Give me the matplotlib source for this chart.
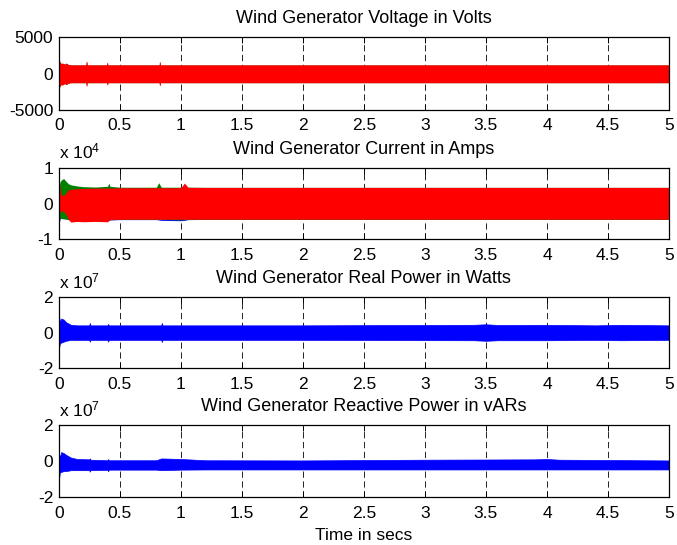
import numpy as np
import matplotlib
matplotlib.use('Agg')
import matplotlib.pyplot as plt
from matplotlib.ticker import FuncFormatter

plt.rcParams['font.family'] = ['Liberation Sans', 'DejaVu Sans']
plt.rcParams['mathtext.fontset'] = 'custom'
plt.rcParams['mathtext.rm'] = 'Liberation Sans'
plt.rcParams['mathtext.it'] = 'Liberation Sans'
plt.rcParams['lines.scale_dashes'] = False

# envelope of the dense waveforms (time in s, upper / lower)
# voltage, V
t_volt = [0, 0.004, 0.01, 0.02, 0.03, 0.05, 0.06, 0.08, 0.1, 0.225, 0.228, 0.231, 0.395, 0.398, 0.401,
          0.825, 0.828, 0.831, 1.0, 5.0]
volt_hi = [1900, 1800, 1500, 1350, 1400, 1250, 1400, 1200, 1150, 1150, 1650, 1150, 1150, 1500, 1150,
           1150, 1600, 1150, 1150, 1150]
volt_lo = [-2000, -1900, -1600, -1450, -1500, -1300, -1450, -1250, -1200, -1200, -1650, -1200, -1200, -1500,
           -1200, -1200, -1600, -1200, -1200, -1200]

# current, A (three phases)
t_curr = [0, 0.004, 0.01, 0.02, 0.04, 0.06, 0.08, 0.1, 0.15, 0.2, 0.3, 0.4, 0.41, 0.42, 0.5, 0.8,
          0.82, 0.84, 1.0, 1.03, 1.06, 1.2, 5.0]
curr_b_hi = [1500, 2000, 2500, 3000, 3500, 3800, 4000, 4100, 4200, 4300, 4400, 4400, 4500, 4400, 4450,
             4450, 4450, 4450, 4450, 4450, 4450, 4450, 4450]
curr_b_lo = [-6000, -5500, -4500, -3500, -3800, -4200, -4500, -4600, -4700, -4600, -4600, -4600, -4600,
             -4600, -4500, -4500, -4600, -4700, -4800, -4700, -4500, -4450, -4450]
curr_g_hi = [2000, 4000, 6000, 6500, 7000, 6200, 5500, 5200, 4900, 4700, 4600, 4800, 5700, 4800, 4550,
             4550, 5800, 4550, 4550, 4550, 4550, 4500, 4500]
curr_g_lo = [-3500, -3800, -4000, -4200, -4300, -4400, -4400, -4500, -4500, -4500, -4500, -4500, -4500,
             -4500, -4450, -4450, -4450, -4450, -4600, -4500, -4450, -4450, -4450]
curr_r_hi = [7000, 7000, 4500, 2500, 2200, 3000, 3800, 4000, 4100, 4200, 4300, 4300, 4400, 4300, 4400,
             4400, 4500, 4400, 4400, 5700, 4500, 4500, 4500]
curr_r_lo = [-3000, -3500, -2500, -2000, -2200, -3000, -4500, -5200, -5000, -5100, -5000, -5100, -4800,
             -4500, -4400, -4400, -4400, -4400, -4400, -4400, -4400, -4400, -4400]

# real power, W
t_real = [0, 0.004, 0.01, 0.02, 0.04, 0.06, 0.1, 0.15, 0.25, 0.255, 0.26, 0.4, 0.405, 0.41, 0.84, 0.845,
          0.85, 1.0, 2.0, 3.4, 3.5, 3.6, 4.0, 4.4, 4.6, 5.0]
real_hi = [1.1e7, 0.9e7, 0.6e7, 0.8e7, 0.75e7, 0.6e7, 0.45e7, 0.42e7, 0.42e7, 0.55e7, 0.42e7, 0.42e7, 0.5e7,
           0.42e7, 0.42e7, 0.55e7, 0.42e7, 0.42e7, 0.42e7, 0.45e7, 0.48e7, 0.44e7, 0.45e7, 0.42e7, 0.45e7, 0.42e7]
real_lo = [-1.0e7, -0.8e7, -0.6e7, -0.55e7, -0.5e7, -0.45e7, -0.4e7, -0.4e7, -0.4e7, -0.5e7, -0.4e7, -0.4e7,
           -0.5e7, -0.4e7, -0.4e7, -0.52e7, -0.4e7, -0.4e7, -0.4e7, -0.42e7, -0.45e7, -0.42e7, -0.42e7, -0.4e7,
           -0.42e7, -0.4e7]

# reactive power, vAR
t_reac = [0, 0.004, 0.01, 0.02, 0.04, 0.06, 0.1, 0.15, 0.25, 0.255, 0.26, 0.4, 0.405, 0.41, 0.7, 0.8, 0.84,
          1.0, 1.2, 2.0, 3.0, 3.9, 4.0, 4.1, 5.0]
reac_hi = [0.6e7, 0.4e7, 0.2e7, 0.5e7, 0.45e7, 0.35e7, 0.2e7, 0.12e7, 0.1e7, 0.15e7, 0.08e7, 0.05e7, 0.12e7,
           0.05e7, 0.05e7, 0.05e7, 0.15e7, 0.12e7, 0.05e7, 0.04e7, 0.08e7, 0.1e7, 0.12e7, 0.08e7, 0.04e7]
reac_lo = [-1.2e7, -0.9e7, -0.6e7, -0.6e7, -0.55e7, -0.55e7, -0.5e7, -0.5e7, -0.5e7, -0.58e7, -0.5e7,
           -0.48e7, -0.56e7, -0.47e7, -0.47e7, -0.47e7, -0.5e7, -0.47e7, -0.46e7, -0.46e7, -0.46e7, -0.46e7,
           -0.46e7, -0.46e7, -0.46e7]

titles = ['Wind Generator Voltage in Volts',
          'Wind Generator Current in Amps',
          'Wind Generator Real Power in Watts',
          'Wind Generator Reactive Power in vARs']
y_limits = [5000, 1e4, 2e7, 2e7]
y_exponent = [0, 4, 7, 7]
x_ticks = np.arange(0, 5.01, 0.5)
x_ticklabels = ['0', '0.5', '1', '1.5', '2', '2.5', '3', '3.5', '4', '4.5', '5']

W, H = 677, 545
fig = plt.figure(figsize=(W / 100, H / 100), dpi=100)

# axes boxes in pixels: top, bottom
boxes = [(37.3, 110.0), (167.7, 239.3), (297.3, 368.3), (425.0, 497.3)]
left_px, right_px = 58.7, 669.0

axes = []
for (top, bot), title, ylim, expo in zip(boxes, titles, y_limits, y_exponent):
    ax = fig.add_axes([left_px / W, 1 - bot / H, (right_px - left_px) / W, (bot - top) / H])
    ax.set_xlim(0, 5)
    ax.set_ylim(-ylim, ylim)
    ax.set_xticks(x_ticks)
    ax.set_xticklabels(x_ticklabels)
    ax.set_yticks([-ylim, 0, ylim])
    scale = 10 ** expo
    ax.yaxis.set_major_formatter(FuncFormatter(lambda v, p, s=scale: '%g' % (v / s)))
    ax.tick_params(direction='in', top=True, right=True, length=4.5, width=0.7,
                   labelsize=12.5, pad=4)
    ax.tick_params(axis='x', pad=6)
    for sp in ax.spines.values():
        sp.set_linewidth(0.9)
    ax.xaxis.grid(True, color='black', linestyle=(0, (4.5, 2.6)), linewidth=0.6)
    ax.set_axisbelow(True)
    ax.set_title(title, fontsize=13, pad=10)
    if expo:
        ax.annotate(r'x 10$^{%d}$' % expo, xy=(0, 1), xycoords='axes fraction',
                    xytext=(0, 6.5), textcoords='offset points', ha='left', va='baseline',
                    fontsize=12.5)
    axes.append(ax)

ax = axes[0]
ax.fill_between(t_volt, np.array(volt_hi) * 1.03, np.array(volt_lo) * 1.03, color=(0, 0.5, 0), lw=0)
ax.fill_between(t_volt, volt_hi, volt_lo, color='red', lw=0.5, edgecolor='red')

ax = axes[1]
ax.fill_between(t_curr, curr_b_hi, curr_b_lo, color='blue', lw=0)
ax.fill_between(t_curr, curr_g_hi, curr_g_lo, color=(0, 0.5, 0), lw=0)
ax.fill_between(t_curr, curr_r_hi, curr_r_lo, color='red', lw=0)

ax = axes[2]
ax.fill_between(t_real, real_hi, real_lo, color='blue', lw=0.5, edgecolor='blue')

ax = axes[3]
ax.fill_between(t_reac, reac_hi, reac_lo, color='blue', lw=0.5, edgecolor='blue')
ax.set_xlabel('Time in secs', fontsize=12.5, labelpad=5)

fig.savefig('out.png', dpi=100)
